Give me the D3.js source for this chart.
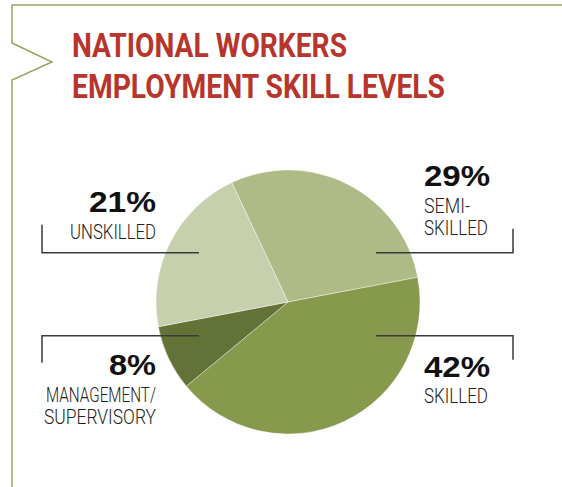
<!DOCTYPE html>
<html>
<head>
<meta charset="utf-8">
<script src="https://cdn.jsdelivr.net/npm/d3@7"></script>
<style>
  html, body { margin: 0; padding: 0; background: #fff; }
  svg { display: block; }
</style>
</head>
<body>
<div id="chart"></div>
<script>
// data
var categories = ["SEMI-SKILLED", "SKILLED", "MANAGEMENT/SUPERVISORY", "UNSKILLED"];
var values = [29, 42, 8, 21];
var labelLines = [["SEMI-", "SKILLED"], ["SKILLED"], ["MANAGEMENT/", "SUPERVISORY"], ["UNSKILLED"]];
var titleLines = ["NATIONAL WORKERS", "EMPLOYMENT SKILL LEVELS"];

var w = 562, h = 487;
var cx = 288, cy = 302, r = 132;
var colors = ["#aebb86", "#86994d", "#637337", "#c6d0ac"];

var svg = d3.select("#chart").append("svg")
    .attr("width", w)
    .attr("height", h);

// frame with notch
svg.append("path")
    .attr("d", "M562,5 L12,5 L12,43 L52,62 L12,80 L12,487")
    .attr("fill", "none")
    .attr("stroke", "#95a562")
    .attr("stroke-width", 1.5);

// title
svg.selectAll("text.title")
    .data(titleLines)
    .enter()
    .append("text")
    .attr("class", "title")
    .text(function(d) { return d; })
    .attr("x", 72)
    .attr("y", function(d, i) { return i == 0 ? 57 : 98; })
    .attr("textLength", function(d, i) { return i == 0 ? 275 : 373; })
    .attr("lengthAdjust", "spacingAndGlyphs")
    .attr("font-family", "Roboto, 'Liberation Sans', sans-serif")
    .attr("font-weight", "bold")
    .attr("font-size", "33px")
    .attr("fill", "#b7352c");

// pie
var pie = d3.pie().sort(null)
    .startAngle(-25.2 * Math.PI / 180)
    .endAngle((360 - 25.2) * Math.PI / 180);
var arc = d3.arc().innerRadius(0).outerRadius(r);

var g = svg.append("g").attr("transform", "translate(" + cx + "," + cy + ")");
g.selectAll("path")
    .data(pie(values))
    .enter()
    .append("path")
    .attr("d", arc)
    .attr("fill", function(d, i) { return colors[i]; })
    .attr("stroke", "rgba(255,255,255,0.6)")
    .attr("stroke-width", 0.7);

// annotations layout: side, line y, text anchor y
var layout = [
  { side: "right", lineY: 252.7, hook: -24, pctY: 186, pctW: 66, lblW: [46, 64] },
  { side: "right", lineY: 335.7, hook: 24, pctY: 376.5, pctW: 66, lblW: [64] },
  { side: "left", lineY: 335.7, hook: 27, pctY: 375, pctW: 47, lblW: [110, 112] },
  { side: "left", lineY: 252.7, hook: -28, pctY: 212, pctW: 67, lblW: [86] }
];

layout.forEach(function(L, i) {
  var left = L.side == "left";
  var x0 = left ? 42 : 513;
  var x1 = left ? 199 : 376;
  svg.append("path")
      .attr("d", "M" + x0 + "," + (L.lineY + L.hook) + " L" + x0 + "," + L.lineY + " L" + x1 + "," + L.lineY)
      .attr("fill", "none")
      .attr("stroke", "#3a3a3a")
      .attr("stroke-width", 1.5);

  var tx = left ? 156 : 424;
  var anchor = left ? "end" : "start";
  svg.append("text")
      .text(values[i] + "%")
      .attr("x", tx)
      .attr("y", L.pctY)
      .attr("text-anchor", anchor)
      .attr("textLength", L.pctW)
      .attr("lengthAdjust", "spacingAndGlyphs")
      .attr("font-family", "'Liberation Sans', Arial, sans-serif")
      .attr("font-weight", "bold")
      .attr("font-size", "30px")
      .attr("fill", "#111");

  labelLines[i].forEach(function(t, j) {
    svg.append("text")
        .text(t)
        .attr("x", tx)
        .attr("y", L.pctY + 26.5 + j * 22.5)
        .attr("text-anchor", anchor)
        .attr("textLength", L.lblW[j])
        .attr("lengthAdjust", "spacingAndGlyphs")
        .attr("font-family", "Roboto, 'Liberation Sans', sans-serif")
        .attr("font-weight", 300)
        .attr("font-size", "19.5px")
        .attr("fill", "#222");
  });
});
</script>
</body>
</html>
